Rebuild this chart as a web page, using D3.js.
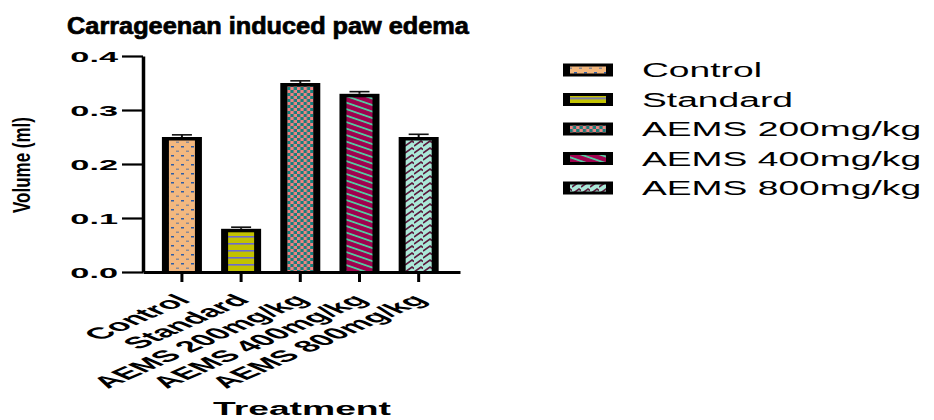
<!DOCTYPE html>
<html>
<head>
<meta charset="utf-8">
<script src="https://cdn.jsdelivr.net/npm/d3@7"></script>
<style>
  body { margin: 0; background: #fff; }
  text { font-family: "Liberation Sans", Arial, sans-serif; }
</style>
</head>
<body>
<script>
// paw edema data (mean volume in ml, with SEM)
var categories = ["Control", "Standard", "AEMS 200mg/kg", "AEMS 400mg/kg", "AEMS 800mg/kg"];
var means = [0.25, 0.08, 0.35, 0.33, 0.25];
var sems = [0.004, 0.003, 0.004, 0.004, 0.005];
var yTicks = [0, 0.1, 0.2, 0.3, 0.4];
var patternIds = ["pDots", "pLines", "pCheck", "pDiag", "pZig"];

var svg = d3.select("body").append("svg")
  .attr("width", 934)
  .attr("height", 420);

// ---- fill patterns ----
var defs = svg.append("defs");

var p1 = defs.append("pattern").attr("id", "pDots").attr("patternUnits", "userSpaceOnUse")
  .attr("width", 10).attr("height", 9);
p1.append("rect").attr("width", 10).attr("height", 9).attr("fill", "#f3b87f");
p1.append("rect").attr("x", 1).attr("y", 2).attr("width", 3).attr("height", 1.5).attr("fill", "#2d5ca6");
p1.append("rect").attr("x", 6).attr("y", 6.5).attr("width", 3).attr("height", 1.5).attr("fill", "#8a8a96");

var p2 = defs.append("pattern").attr("id", "pLines").attr("patternUnits", "userSpaceOnUse")
  .attr("width", 10).attr("height", 7);
p2.append("rect").attr("width", 10).attr("height", 7).attr("fill", "#c2c200");
p2.append("rect").attr("y", 5).attr("width", 10).attr("height", 1.6).attr("fill", "#6a6ad0");

var p3 = defs.append("pattern").attr("id", "pCheck").attr("patternUnits", "userSpaceOnUse")
  .attr("width", 6.6).attr("height", 6);
p3.append("rect").attr("width", 6.6).attr("height", 6).attr("fill", "#f08282");
p3.append("rect").attr("width", 3.3).attr("height", 3).attr("fill", "#16807c");
p3.append("rect").attr("x", 3.3).attr("y", 3).attr("width", 3.3).attr("height", 3).attr("fill", "#16807c");

var p4 = defs.append("pattern").attr("id", "pDiag").attr("patternUnits", "userSpaceOnUse")
  .attr("width", 10).attr("height", 6.5).attr("patternTransform", "skewY(19)");
p4.append("rect").attr("width", 10).attr("height", 6.5).attr("fill", "#a0004e");
p4.append("rect").attr("y", 2).attr("width", 10).attr("height", 1.8).attr("fill", "#4fd8a6");

var p5 = defs.append("pattern").attr("id", "pZig").attr("patternUnits", "userSpaceOnUse")
  .attr("width", 9).attr("height", 7);
p5.append("rect").attr("width", 9).attr("height", 7).attr("fill", "#abe8d8");
p5.append("path").attr("d", "M0,6 L7,1 L9,2.5").attr("fill", "none")
  .attr("stroke", "#5a1a3c").attr("stroke-width", 1.6);

// ---- scales ----
var x = d3.scaleBand()
  .domain(categories)
  .range([143, 460])
  .paddingInner(0.324)
  .paddingOuter(0.34)
  .align(0.47);

var y = d3.scaleLinear()
  .domain([0, 0.4])
  .range([272, 56]);

// title
svg.append("text")
  .attr("transform", "translate(268,34) scale(1.1,1)")
  .attr("text-anchor", "middle")
  .attr("font-size", 23).attr("font-weight", "bold")
  .attr("stroke", "#000").attr("stroke-width", 0.7)
  .text("Carrageenan induced paw edema");

// ---- bars ----
var bars = svg.append("g");
var rows = categories.map(function(c, i) { return { cat: c, v: means[i], e: sems[i], p: patternIds[i] }; });

bars.selectAll(".outer").data(rows).enter().append("rect")
  .attr("x", function(d) { return x(d.cat); })
  .attr("y", function(d) { return y(d.v); })
  .attr("width", x.bandwidth())
  .attr("height", function(d) { return y(0) - y(d.v); })
  .attr("fill", "#000");

bars.selectAll(".inner").data(rows).enter().append("rect")
  .attr("x", function(d) { return x(d.cat) + 7; })
  .attr("y", function(d) { return y(d.v) + 3.5; })
  .attr("width", x.bandwidth() - 14)
  .attr("height", function(d) { return y(0) - y(d.v) - 3.5; })
  .attr("fill", function(d) { return "url(#" + d.p + ")"; });

// error bars
var err = svg.append("g").attr("stroke", "#111");
err.selectAll(".stem").data(rows).enter().append("line")
  .attr("x1", function(d) { return x(d.cat) + x.bandwidth() / 2; })
  .attr("x2", function(d) { return x(d.cat) + x.bandwidth() / 2; })
  .attr("y1", function(d) { return y(d.v); })
  .attr("y2", function(d) { return y(d.v + d.e); })
  .attr("stroke-width", 2);
err.selectAll(".cap").data(rows).enter().append("line")
  .attr("x1", function(d) { return x(d.cat) + x.bandwidth() / 2 - 10; })
  .attr("x2", function(d) { return x(d.cat) + x.bandwidth() / 2 + 10; })
  .attr("y1", function(d) { return y(d.v + d.e); })
  .attr("y2", function(d) { return y(d.v + d.e); })
  .attr("stroke-width", 1.6);

// ---- axes ----
var yAxis = d3.axisLeft(y).tickValues(yTicks).tickFormat(d3.format(".1f"))
  .tickSize(21).tickSizeOuter(0);
var gy = svg.append("g").attr("transform", "translate(143,0)").call(yAxis);
gy.select(".domain").attr("stroke-width", 3.5);
gy.selectAll(".tick line").attr("stroke-width", 2.2);
gy.selectAll(".tick text")
  .attr("x", null).attr("dy", null)
  .attr("transform", "translate(-25,5) scale(2.45,1)")
  .attr("font-size", 14).attr("font-weight", "bold").attr("fill", "#000");

var xAxis = d3.axisBottom(x).tickSize(10).tickSizeOuter(0);
var gx = svg.append("g").attr("transform", "translate(0,272)").call(xAxis);
gx.select(".domain").attr("stroke-width", 3);
gx.selectAll(".tick line").attr("stroke-width", 3);
gx.selectAll(".tick text")
  .attr("y", null).attr("dy", null)
  .attr("text-anchor", "end")
  .attr("transform", "translate(10,29) scale(2.3,1) rotate(-45)")
  .attr("font-size", 16).attr("font-weight", "bold").attr("fill", "#000");

// axis titles
svg.append("text")
  .attr("transform", "translate(302,415) scale(2.07,1)")
  .attr("text-anchor", "middle")
  .attr("font-size", 18).attr("font-weight", "bold")
  .text("Treatment");

svg.append("text")
  .attr("transform", "translate(30,165) scale(1.45,1) rotate(-90)")
  .attr("text-anchor", "middle")
  .attr("font-size", 17)
  .attr("font-weight", "bold")
  .attr("textLength", 96).attr("lengthAdjust", "spacingAndGlyphs")
  .text("Volume (ml)");

// ---- legend ----
var legend = svg.append("g").selectAll("g").data(rows).enter().append("g")
  .attr("transform", function(d, i) { return "translate(563," + (70 + i * 29.5) + ")"; });
legend.append("rect")
  .attr("x", 0).attr("y", -6.5).attr("width", 50).attr("height", 13).attr("fill", "#000");
legend.append("rect")
  .attr("x", 7).attr("y", -3.5).attr("width", 36).attr("height", 7)
  .attr("fill", function(d) { return "url(#" + d.p + ")"; });
legend.append("text")
  .attr("transform", "translate(79,7) scale(1.86,1)")
  .attr("font-size", 20)
  .text(function(d) { return d.cat; });
</script>
</body>
</html>
